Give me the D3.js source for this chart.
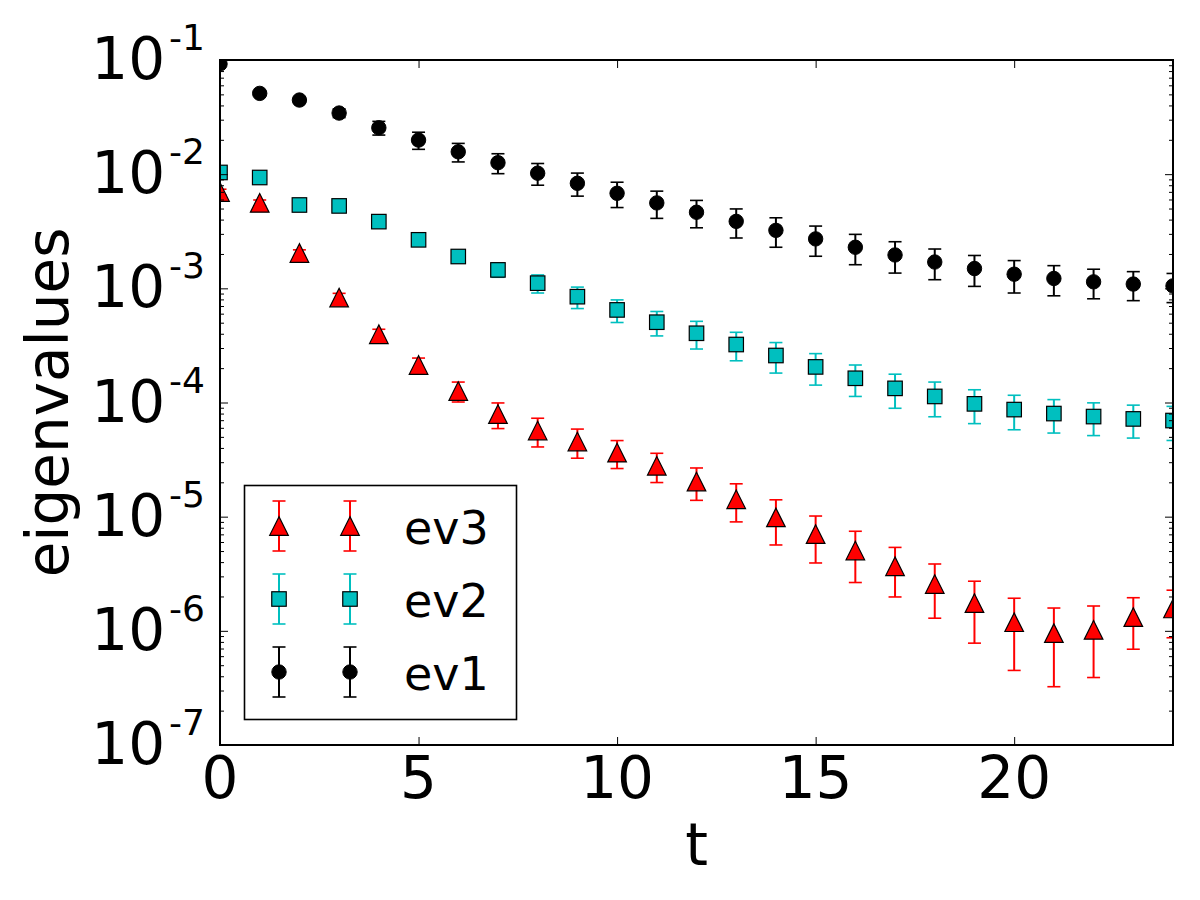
<!DOCTYPE html>
<html>
<head>
<meta charset="utf-8">
<script src="https://cdn.jsdelivr.net/npm/d3@7"></script>
<style>
  body { margin: 0; background: #fff; }
  text { font-family: "DejaVu Sans", sans-serif; fill: #000; }
</style>
</head>
<body>
<svg id="chart" width="1200" height="900"></svg>
<script>
// data
var steps = d3.range(0, 25);

var ev1 = [0.0923, 0.051, 0.0446, 0.0343, 0.0255, 0.0199, 0.0157, 0.0126, 0.0102, 0.00832,
           0.0068, 0.0056, 0.00464, 0.00386, 0.00322, 0.00271, 0.00229, 0.00196, 0.0017, 0.00149,
           0.00133, 0.00122, 0.00114, 0.00109, 0.00105];
var ev1Err = [0.002, 0.002, 0.0025, 0.003, 0.0035, 0.0034, 0.0029, 0.0025, 0.0022, 0.0019,
              0.0017, 0.0015, 0.00125, 0.0011, 0.00093, 0.0008, 0.00068, 0.0006, 0.00051, 0.00045,
              0.00042, 0.00036, 0.00033, 0.00031, 0.0003];

var ev2 = [0.01035, 0.00935, 0.00537, 0.00527, 0.00384, 0.00266, 0.0019, 0.00145, 0.00111, 0.000845,
           0.000647, 0.000505, 0.000404, 0.000322, 0.000258, 0.000205, 0.000163, 0.000133, 0.000113, 0.0000973,
           0.0000867, 0.00008, 0.0000753, 0.0000718, 0.0000695];
var ev2Err = [0.0005, 0.0004, 0.0003, 0.0003, 0.0003, 0.00025, 0.00022, 0.0002, 0.0002, 0.00018,
              0.000145, 0.000122, 0.00011, 0.00009, 0.000077, 0.000063, 0.00005, 0.000044, 0.000038, 0.000032,
              0.000029, 0.000026, 0.000024, 0.000023, 0.000023];

var ev3 = [0.00698, 0.00561, 0.00204, 0.00083, 0.000396, 0.000213, 0.000126, 0.0000791, 0.0000568, 0.0000455,
           0.0000364, 0.0000279, 0.0000203, 0.0000142, 0.00000985, 0.00000703, 0.00000505, 0.00000368, 0.00000257, 0.00000175,
           0.00000119, 0.000000954, 0.00000102, 0.00000132, 0.00000157];
var ev3Err = [0.0004, 0.00033, 0.000134, 0.000074, 0.000042, 0.000032, 0.000025, 0.00002, 0.000016, 0.000013,
              0.00001, 0.000008, 0.0000064, 0.0000052, 0.0000042, 0.0000031, 0.0000024, 0.0000017, 0.00000128, 0.00000097,
              0.00000074, 0.00000063, 0.00000063, 0.00000063, 0.0000007];

var xTicks = [0, 5, 10, 15, 20];
var yExponents = [-1, -2, -3, -4, -5, -6, -7];

var series = [
  { name: "ev3", values: ev3, errs: ev3Err, color: "#ff0000", marker: "triangle" },
  { name: "ev2", values: ev2, errs: ev2Err, color: "#00bfbf", marker: "square" },
  { name: "ev1", values: ev1, errs: ev1Err, color: "#000000", marker: "circle" }
];

var svg = d3.select("#chart");
var plotL = 220, plotR = 1173, plotT = 60, plotB = 745;

var x = d3.scaleLinear().domain([0, 24]).range([plotL, plotR]);
var y = d3.scaleLog().domain([1e-7, 1e-1]).range([plotB, plotT]);

svg.append("rect").attr("width", 1200).attr("height", 900).attr("fill", "#fff");

svg.append("clipPath").attr("id", "plotclip")
   .append("rect").attr("x", plotL).attr("y", plotT)
   .attr("width", plotR - plotL).attr("height", plotB - plotT);

// marker drawing, centred on (cx, cy)
function drawMarker(g, kind, cx, cy, fill) {
  if (kind === "circle") {
    g.append("circle").attr("cx", cx).attr("cy", cy).attr("r", 7.2)
     .attr("fill", fill).attr("stroke", "#000").attr("stroke-width", 1);
  } else if (kind === "square") {
    var s = 14.5;
    g.append("rect").attr("x", cx - s / 2).attr("y", cy - s / 2)
     .attr("width", s).attr("height", s)
     .attr("fill", fill).attr("stroke", "#000").attr("stroke-width", 1.2);
  } else {
    var h = 9.3;
    var p = d3.path();
    p.moveTo(cx, cy - h); p.lineTo(cx - h, cy + h); p.lineTo(cx + h, cy + h); p.closePath();
    g.append("path").attr("d", p.toString())
     .attr("fill", fill).attr("stroke", "#000").attr("stroke-width", 1.2)
     .attr("stroke-linejoin", "miter");
  }
}

function drawErrBar(g, cx, yTop, yBot, color) {
  g.append("line").attr("x1", cx).attr("x2", cx).attr("y1", yTop).attr("y2", yBot)
   .attr("stroke", color).attr("stroke-width", 2);
  [yTop, yBot].forEach(function(yy) {
    g.append("line").attr("x1", cx - 6.5).attr("x2", cx + 6.5).attr("y1", yy).attr("y2", yy)
     .attr("stroke", color).attr("stroke-width", 1.6);
  });
}

// Data
var plot = svg.append("g").attr("clip-path", "url(#plotclip)");
series.forEach(function(s) {
  var g = plot.append("g").attr("class", "series " + s.name);
  steps.forEach(function(t, i) {
    var v = s.values[i], e = s.errs[i];
    drawErrBar(g, x(t), y(v + e), y(v - e), s.color);
  });
  var fill = s.marker === "circle" ? "#000" : s.color;
  steps.forEach(function(t, i) {
    drawMarker(g, s.marker, x(t), y(s.values[i]), fill);
  });
});

// Axes: ticks point inward on all four sides
var minorVals = [];
yExponents.forEach(function(k) {
  if (k === -1) return;
  for (var m = 2; m <= 9; m++) minorVals.push(m * Math.pow(10, k));
});
var majorVals = yExponents.map(function(k) { return Math.pow(10, k); });

function tickStyle(g) {
  g.select(".domain").remove();
  g.selectAll(".tick line").attr("stroke", "#000").attr("stroke-width", 1);
}

svg.append("g").attr("transform", "translate(0," + plotB + ")")
   .call(d3.axisBottom(x).tickValues(xTicks).tickSize(-8).tickFormat("")).call(tickStyle);
svg.append("g").attr("transform", "translate(0," + plotT + ")")
   .call(d3.axisTop(x).tickValues(xTicks).tickSize(-8).tickFormat("")).call(tickStyle);

[[d3.axisLeft, plotL], [d3.axisRight, plotR]].forEach(function(a) {
  svg.append("g").attr("transform", "translate(" + a[1] + ",0)")
     .call(a[0](y).tickValues(majorVals).tickSize(-8).tickFormat("")).call(tickStyle);
  svg.append("g").attr("transform", "translate(" + a[1] + ",0)")
     .call(a[0](y).tickValues(minorVals).tickSize(-4).tickFormat("")).call(tickStyle);
});

// frame
svg.append("rect").attr("x", plotL).attr("y", plotT)
   .attr("width", plotR - plotL).attr("height", plotB - plotT)
   .attr("fill", "none").attr("stroke", "#000").attr("stroke-width", 2);

// tick labels
svg.append("g").selectAll("text").data(xTicks).enter().append("text")
   .attr("x", function(d) { return x(d); })
   .attr("y", plotB + 53)
   .attr("text-anchor", "middle")
   .style("font-size", "58px")
   .text(function(d) { return d; });

var yl = svg.append("g").selectAll("text").data(yExponents).enter().append("text")
   .attr("x", 205)
   .attr("y", function(k) { return y(Math.pow(10, k)) + 19; })
   .attr("text-anchor", "end")
   .style("font-size", "58px");
yl.append("tspan").text("10");
yl.append("tspan").attr("dy", -29).attr("dx", 4).style("font-size", "36px")
  .text(function(k) { return "-" + Math.abs(k); });

// axis titles
svg.append("text").attr("x", (plotL + plotR) / 2).attr("y", 865)
   .attr("text-anchor", "middle").style("font-size", "58px").text("t");
svg.append("text")
   .attr("transform", "translate(68," + ((plotT + plotB) / 2) + ") rotate(-90)")
   .attr("text-anchor", "middle").style("font-size", "58px").text("eigenvalues");

// Legend
var leg = svg.append("g");
leg.append("rect").attr("x", 244.5).attr("y", 485.5).attr("width", 272).attr("height", 234)
   .attr("fill", "#fff").attr("stroke", "#000").attr("stroke-width", 1.6);
series.forEach(function(s, i) {
  var cy = 526 + i * 73;
  var fill = s.marker === "circle" ? "#000" : s.color;
  [279, 350].forEach(function(cx) {
    drawErrBar(leg, cx, cy - 25, cy + 25, s.color);
    drawMarker(leg, s.marker, cx, cy, fill);
  });
  leg.append("text").attr("x", 404).attr("y", cy + 18)
     .style("font-size", "46px").text(s.name);
});
</script>
</body>
</html>
